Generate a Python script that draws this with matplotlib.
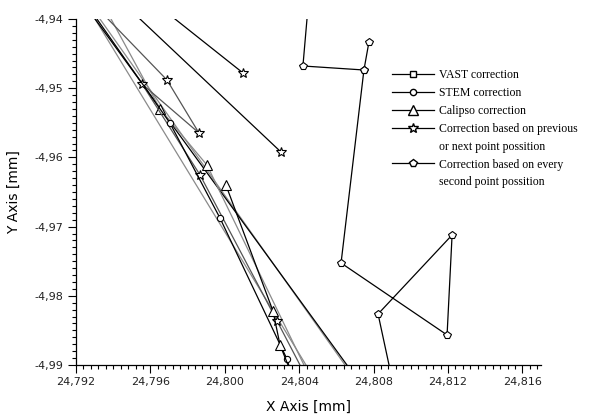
import matplotlib
matplotlib.use("Agg")
import matplotlib.pyplot as plt
from matplotlib.lines import Line2D
from matplotlib.ticker import MultipleLocator, FuncFormatter

# series legend text (one row per printed line)
legend_rows = ["VAST correction",
               "STEM correction",
               "Calipso correction",
               "Correction based on previous",
               "or next point possition",
               "Correction based on every",
               "second point possition"]

# VAST paths (vertices lie outside the view)
vast_a_x = [24.79167, 24.80792]
vast_a_y = [-4.935, -4.995]
vast_b_x = [24.79197, 24.80778]
vast_b_y = [-4.935, -4.995]
vast_c_x = [24.79189, 24.80550]
vast_c_y = [-4.935, -4.995]

# STEM
stem_x = [24.79182, 24.79705, 24.79974, 24.80334, 24.80399]
stem_y = [-4.935, -4.95503, -4.96876, -4.98913, -4.995]

# Calipso
calipso_a_x = [24.79287, 24.79652, 24.79904, 24.80516]
calipso_a_y = [-4.935, -4.95301, -4.96110, -4.995]
calipso_b_x = [24.80006, 24.80259, 24.80297, 24.80414]
calipso_b_y = [-4.96399, -4.98220, -4.98711, -4.995]

# previous / next point
prev_a_x = [24.79192, 24.79689, 24.79861, 24.79555, 24.79867, 24.80281, 24.80501]
prev_a_y = [-4.935, -4.94881, -4.95647, -4.94939, -4.96254, -4.98364, -4.995]
prev_b_x = [24.79498, 24.80098]
prev_b_y = [-4.935, -4.94780]
prev_c_x = [24.79347, 24.80302]
prev_c_y = [-4.935, -4.95922]

# every second point
second_a_x = [24.80458, 24.80420, 24.80748]
second_a_y = [-4.935, -4.94679, -4.94737]
second_b_x = [24.80775, 24.80748, 24.80625, 24.81195, 24.81222, 24.80824, 24.80923]
second_b_y = [-4.94332, -4.94737, -4.97526, -4.98566, -4.97121, -4.98263, -4.995]

GRAY = "#8a8a8a"
BLACK = "#000000"

fig = plt.figure(figsize=(6.14, 4.17), dpi=100)
ax = fig.add_axes([76 / 614, 1 - 365 / 417, 465 / 614, 346 / 417])

def path(x, y, marker, color, ms):
    ax.plot(x, y, color=color, lw=0.9, marker=marker, ms=ms,
            mfc="white", mec="black", mew=0.8)

path(vast_b_x, vast_b_y, "s", GRAY, 4.5)
path(vast_c_x, vast_c_y, "s", GRAY, 4.5)
path(vast_a_x, vast_a_y, "s", BLACK, 4.5)
path(calipso_a_x, calipso_a_y, "^", GRAY, 7)
path(prev_a_x, prev_a_y, "*", "#555555", 7)
path(prev_c_x, prev_c_y, "*", BLACK, 7)
path(prev_b_x, prev_b_y, "*", BLACK, 7)
path(stem_x, stem_y, "o", BLACK, 4.5)
path(calipso_b_x, calipso_b_y, "^", BLACK, 7)
path(second_a_x, second_a_y, "p", BLACK, 6)
path(second_b_x, second_b_y, "p", BLACK, 6)

ax.set_xlim(24.792, 24.817)
ax.set_ylim(-4.99, -4.94)

ax.xaxis.set_major_locator(MultipleLocator(0.004))
ax.xaxis.set_minor_locator(MultipleLocator(0.0004))
ax.yaxis.set_major_locator(MultipleLocator(0.01))
ax.yaxis.set_minor_locator(MultipleLocator(0.001))
ax.xaxis.set_major_formatter(FuncFormatter(lambda v, p: f"{v:.3f}".replace(".", ",")))
ax.yaxis.set_major_formatter(FuncFormatter(lambda v, p: f"{v:.2f}".replace(".", ",")))

for s in ["top", "right"]:
    ax.spines[s].set_visible(False)
for s in ["left", "bottom"]:
    ax.spines[s].set_linewidth(0.9)

ax.tick_params(which="major", length=6, width=0.8, labelsize=8, pad=3, labelcolor="#222222")
ax.tick_params(which="minor", length=3, width=0.8)

ax.set_xlabel("X Axis [mm]", fontsize=10)
ax.set_ylabel("Y Axis [mm]", fontsize=10)
ax.xaxis.set_label_coords(0.5, -0.1)
ax.yaxis.set_label_coords(-0.118, 0.5)

def handle(marker, ms):
    return Line2D([], [], color="black", lw=0.9, marker=marker, ms=ms, mfc="white", mec="black")

blank = Line2D([], [], lw=0, marker="")
handles = [handle("s", 4.5), handle("o", 4.5), handle("^", 7),
           handle("*", 7), blank, handle("p", 6), blank]

fig.legend(handles, legend_rows, loc="upper left", bbox_to_anchor=(392 / 614, 1 - 69 / 417),
           frameon=False, borderpad=0, borderaxespad=0, handlelength=3.6,
           handletextpad=0.4, labelspacing=0.5,
           prop={"family": "Liberation Serif", "size": 8.5})

fig.savefig("out.png", dpi=100)
